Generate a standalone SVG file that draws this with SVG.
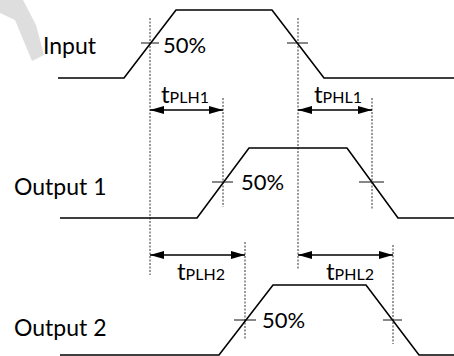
<svg xmlns="http://www.w3.org/2000/svg" width="454" height="356" viewBox="0 0 454 356">
<defs>
<style>
.sig{fill:none;stroke:#000;stroke-width:1.6;stroke-linejoin:miter}
.dash{fill:none;stroke:#333;stroke-width:1;stroke-dasharray:2,1.5}
.tick{fill:none;stroke:#111;stroke-width:1}
.arr{fill:none;stroke:#000;stroke-width:1.4;marker-start:url(#ah);marker-end:url(#ah)}
.lbl{font-family:Lato,"Liberation Sans",sans-serif;font-size:23px;fill:#000}
.pct{font-family:Lato,"Liberation Sans",sans-serif;font-size:22px;fill:#000}
.tl{font-family:Lato,"Liberation Sans",sans-serif;font-size:24px;fill:#000}
.sub{font-size:16px}
</style>
<marker id="ah" viewBox="0 0 14 8" refX="14" refY="4" markerWidth="14" markerHeight="8" markerUnits="userSpaceOnUse" orient="auto-start-reverse">
<path d="M0,0 L14,4 L0,8 Z" fill="#000"/>
</marker>
</defs>
<polygon points="0,0 23,0 36,25 44,55 32,61 15,20 0,13" fill="#dedede"/>
<g id="connectors">
<line class="dash" x1="150" y1="18" x2="150" y2="275"/>
<line class="dash" x1="298" y1="18" x2="298" y2="270"/>
<line class="dash" x1="223" y1="98" x2="223" y2="207"/>
<line class="dash" x1="372" y1="98" x2="372" y2="210"/>
<line class="dash" x1="245" y1="242" x2="245" y2="340"/>
<line class="dash" x1="393" y1="245" x2="393" y2="344"/>
<line class="arr" x1="150" y1="110" x2="223" y2="110"/>
<line class="arr" x1="298" y1="110" x2="372" y2="110"/>
<line class="arr" x1="150" y1="255" x2="245" y2="255"/>
<line class="arr" x1="298" y1="255" x2="393" y2="255"/>
</g>
<g id="input">
<polyline class="sig" points="58,78 124,78 176,10 272,10 324,78 454,78"/>
<line class="tick" x1="141" y1="43" x2="159" y2="43"/>
<line class="tick" x1="287" y1="43" x2="308" y2="43"/>
<text class="lbl" x="43" y="54">Input</text>
<text class="pct" x="163" y="53">50%</text>
</g>
<g id="output1">
<polyline class="sig" points="60,218 197,218 249,148 347,148 398,218 454,218"/>
<line class="tick" x1="212" y1="182" x2="233" y2="182"/>
<line class="tick" x1="359" y1="182" x2="384" y2="182"/>
<text class="lbl" x="14" y="195">Output 1</text>
<text class="pct" x="241" y="190">50%</text>
</g>
<g id="output2">
<polyline class="sig" points="60,355 219,355 273,285 366,285 419,355 454,355"/>
<line class="tick" x1="234" y1="320" x2="256" y2="320"/>
<line class="tick" x1="383" y1="320" x2="402" y2="320"/>
<text class="lbl" x="14" y="336">Output 2</text>
<text class="pct" x="262" y="328">50%</text>
</g>
<g id="tplh1"><text class="tl" x="161" y="103">t<tspan class="sub">PLH1</tspan></text></g>
<g id="tphl1"><text class="tl" x="314" y="103">t<tspan class="sub">PHL1</tspan></text></g>
<g id="tplh2"><text class="tl" x="177" y="280">t<tspan class="sub">PLH2</tspan></text></g>
<g id="tphl2"><text class="tl" x="326" y="280">t<tspan class="sub">PHL2</tspan></text></g>
</svg>
